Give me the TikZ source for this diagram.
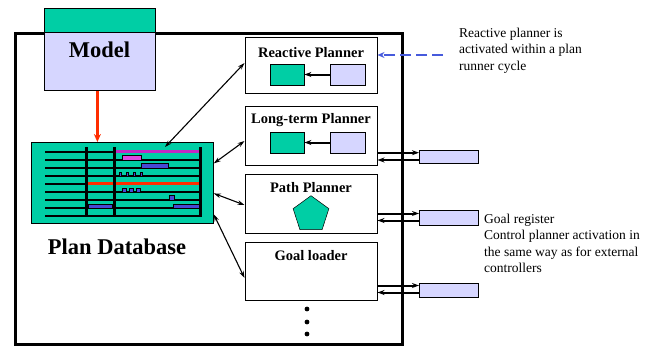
\documentclass[tikz,border=0pt]{standalone}
\usepackage{fontspec}
\setmainfont{Liberation Serif}
\usetikzlibrary{positioning,shapes.geometric,arrows.meta,calc}
\definecolor{ModelTeal}{RGB}{0,206,165}
\definecolor{Lavender}{RGB}{214,214,255}
\definecolor{ChartBlue}{RGB}{72,72,212}
\definecolor{ChartPink}{RGB}{225,70,225}
\definecolor{ChartMagenta}{RGB}{195,40,195}
\definecolor{HintBlue}{RGB}{70,90,220}
\definecolor{LinkRed}{RGB}{255,45,0}
\tikzset{
  tbox/.style={draw=black,fill=ModelTeal,line width=0.8pt,inner sep=0pt},
  lbox/.style={draw=black,fill=Lavender,line width=0.8pt,inner sep=0pt},
  pbox/.style={draw=black,fill=white,line width=1pt,minimum width=132pt,inner sep=0pt},
  ptitle/.style={font=\fontsize{14.5}{16}\selectfont\bfseries,inner sep=0pt},
  bigtitle/.style={font=\fontsize{22.5}{24}\selectfont\bfseries,inner sep=0pt},
  note/.style={font=\fontsize{13.5}{16.5}\selectfont,align=left,inner sep=0pt,anchor=north west},
  arr/.style={-{Stealth[length=7pt,width=5pt]},black,line width=2pt},
  darr/.style={{Stealth[length=7pt,width=4.5pt]}-{Stealth[length=7pt,width=4.5pt]},black,line width=1.1pt},
  redarr/.style={-{Stealth[length=8pt,width=7pt]},LinkRed,line width=3pt},
  hintarr/.style={-{Stealth[length=7pt,width=6pt]},HintBlue,line width=2pt,dash pattern=on 11pt off 5pt},
}
\begin{document}
\begin{tikzpicture}[x=1pt,y=-1pt]
\useasboundingbox (0,0) rectangle (652,345);

% outer frame
\node[draw,line width=2.8pt,minimum width=387pt,minimum height=311pt,inner sep=0pt,anchor=north west] (frame) at (14,32) {};

% model
\node[tbox,minimum width=111pt,minimum height=24pt,anchor=north west] (modeltop) at (44,8) {};
\node[lbox,minimum width=111pt,minimum height=58pt,anchor=north west] (model) at (44,32) {};
\node[bigtitle] (modeltxt) at (99.5,50) {Model};

% plan database
\node[tbox,minimum width=182pt,minimum height=81pt,anchor=north west] (db) at (31,142) {};
\node[bigtitle] (dbtxt) at (117,247) {Plan Database};
\foreach \y in {152,160,...,216}
  \draw[line width=1.7pt] (45,\y) -- (200,\y);
\draw[ChartMagenta,line width=3pt] (114,151) -- (200,151);
\draw[LinkRed,line width=3.5pt] (88,183.5) -- (200,183.5);
\filldraw[fill=ChartPink,draw=black,line width=0.5pt] (122,155.5) rectangle (141,160);
\filldraw[fill=ChartBlue,draw=black,line width=0.5pt] (141,163.5) rectangle (168,168);
\foreach \x in {119,126,133,140}
  \filldraw[fill=ChartBlue,draw=black,line width=0.4pt] (\x,172.5) rectangle (\x+2.5,176);
\foreach \x in {122,129,136}
  \filldraw[fill=ChartBlue,draw=black,line width=0.5pt] (\x,188) rectangle (\x+4.5,192.5);
\filldraw[fill=ChartBlue,draw=black,line width=0.5pt] (169,195.5) rectangle (174,200);
\filldraw[fill=ChartBlue,draw=black,line width=0.5pt] (88,204) rectangle (112,208);
\filldraw[fill=ChartBlue,draw=black,line width=0.5pt] (173,204) rectangle (200,208);
\foreach \x in {86,114,200}
  \draw[line width=3pt] (\x,147) -- (\x,217);

\draw[redarr] ([xshift=-2.5pt]model.south) -- ([xshift=-2.5pt]model.south |- db.north);

% planners
\node[pbox,minimum height=55pt] (reactive) at (311,65.5) {};
\node[pbox,minimum height=59pt,below=12pt of reactive] (longterm) {};
\node[pbox,minimum height=59pt,below=8pt of longterm] (path) {};
\node[pbox,minimum height=58pt,below=8pt of path] (goal) {};

\node[ptitle] (reactivetxt) at ([yshift=-15pt]reactive.north) {Reactive Planner};
\node[ptitle] (longtermtxt) at ([yshift=-15pt]longterm.north) {Long-term Planner};
\node[ptitle] (pathtxt) at ([yshift=-14pt]path.north) {Path Planner};
\node[ptitle] (goaltxt) at ([yshift=-14pt]goal.north) {Goal loader};

\node[tbox,minimum width=34pt,minimum height=21pt] (reactivein) at ([xshift=-24pt,yshift=-9pt]reactive.center) {};
\node[lbox,minimum width=35pt,minimum height=21pt] (reactiveout) at ([xshift=36.5pt,yshift=-9pt]reactive.center) {};
\draw[arr] (reactiveout) -- (reactivein);
\node[tbox,minimum width=34pt,minimum height=21pt] (longtermin) at ([xshift=-24pt,yshift=-7pt]longterm.center) {};
\node[lbox,minimum width=35pt,minimum height=21pt] (longtermout) at ([xshift=36.5pt,yshift=-7pt]longterm.center) {};
\draw[arr] (longtermout) -- (longtermin);
\node[regular polygon,regular polygon sides=5,fill=ModelTeal,draw=black,line width=0.5pt,minimum size=37.6pt,inner sep=0pt] (pent) at ([yshift=-11pt]path.center) {};

\foreach \y in {309,322,334}
  \fill (307,\y) circle (2.4pt);

% database links
\draw[darr] ([xshift=134pt,yshift=-5pt]db.north west) -- ([yshift=2.5pt]reactive.west);
\draw[darr] ([yshift=19.5pt]db.east) -- ([yshift=-5.5pt]longterm.west);
\draw[darr] ([yshift=-10.5pt]db.east) -- ([yshift=-1.5pt]path.west);
\draw[darr] ([yshift=-31.5pt]db.east) -- ([yshift=-7pt]goal.west);

% external controllers
\node[lbox,minimum width=59pt,minimum height=13pt,anchor=west] (extone) at (419,156.5) {};
\node[lbox,minimum width=59pt,minimum height=15pt,anchor=west] (exttwo) at (419,217.5) {};
\node[lbox,minimum width=59pt,minimum height=14pt,anchor=west] (extthree) at (419,290) {};
\draw[arr] ([yshift=3.8pt]extone.west -| longterm.east) -- ([yshift=3.8pt]extone.west);
\draw[arr] ([yshift=-3.5pt]extone.west) -- ([yshift=-3.5pt]extone.west -| longterm.east);
\draw[arr] ([yshift=4pt]exttwo.west -| path.east) -- ([yshift=4pt]exttwo.west);
\draw[arr] ([yshift=-3pt]exttwo.west) -- ([yshift=-3pt]exttwo.west -| path.east);
\draw[arr] ([yshift=4.5pt]extthree.west -| goal.east) -- ([yshift=4.5pt]extthree.west);
\draw[arr] ([yshift=-2.5pt]extthree.west) -- ([yshift=-2.5pt]extthree.west -| goal.east);

% notes
\coordinate (hintstart) at (443,55);
\draw[hintarr] (hintstart) -- (hintstart -| reactive.east);
\node[note] (hinttxt) at (459,27.5) {Reactive planner is\\activated within a plan\\runner cycle};
\node[note] (goalregtxt) at (484,213.5) {Goal register\\Control planner activation in\\the same way as for external\\controllers};
\end{tikzpicture}
\end{document}
